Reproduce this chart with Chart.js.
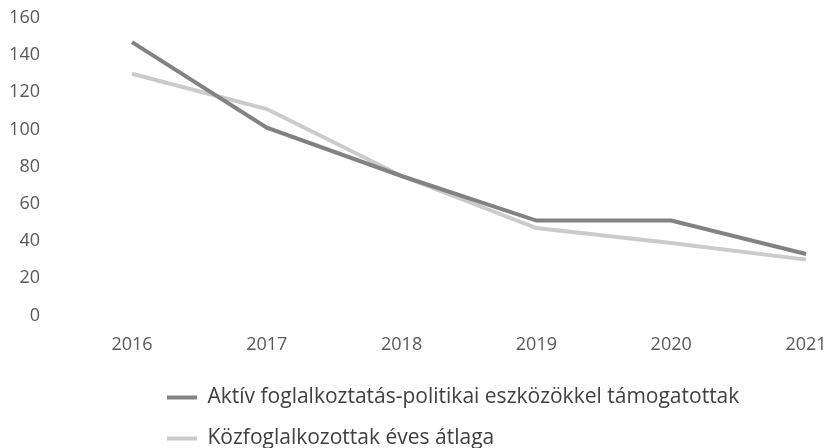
<!DOCTYPE html>
<html>
<head>
<meta charset="utf-8">
<script src="https://cdn.jsdelivr.net/npm/chart.js@4/dist/chart.umd.min.js"></script>
<style>
  html, body { margin: 0; padding: 0; background: #fff; }
  #wrap { width: 831px; height: 448px; }
</style>
</head>
<body>
<div id="wrap"><canvas id="chart"></canvas></div>
<script>
// adatok az ábráról leolvasva
var years = ["2016", "2017", "2018", "2019", "2020", "2021"];
var aktivTamogatott = [147, 101, 75, 51, 51, 33];
var kozfoglalkoztatott = [130, 111, 75, 47, 39, 30];
var seriesNames = [
    "Aktív foglalkoztatás-politikai eszközökkel támogatottak",
    "Közfoglalkozottak éves átlaga"
];

// a jelmagyarázat balra tolva, mint az eredetin
var legendShift = {
    id: "legendShift",
    afterLayout: function(chart) {
        if (chart.legend) {
            chart.legend.left = 147;
        }
    }
};

var ctx = document.getElementById("chart");

new Chart(ctx, {
    type: "line",
    data: {
        labels: years,
        datasets: [{
            label: seriesNames[0],
            data: aktivTamogatott,
            borderColor: "#828282",
            backgroundColor: "#828282",
            borderWidth: 4,
            pointRadius: 0,
            tension: 0
        }, {
            label: seriesNames[1],
            data: kozfoglalkoztatott,
            borderColor: "#cbcbcb",
            backgroundColor: "#cbcbcb",
            borderWidth: 4,
            pointRadius: 0,
            tension: 0
        }]
    },
    plugins: [legendShift],
    options: {
        responsive: true,
        maintainAspectRatio: false,
        animation: false,
        layout: {
            padding: { top: 18, right: 25, left: 0, bottom: -11 }
        },
        plugins: {
            tooltip: { enabled: false },
            legend: {
                position: "bottom",
                align: "start",
                labels: {
                    usePointStyle: true,
                    pointStyle: "line",
                    pointStyleWidth: 30,
                    padding: 20,
                    color: "#404040",
                    font: { family: "Open Sans", size: 21 }
                }
            }
        },
        scales: {
            x: {
                grid: { display: false, drawTicks: false },
                border: { display: false },
                ticks: {
                    padding: 19,
                    color: "#595959",
                    font: { family: "Open Sans", size: 18 }
                },
                afterFit: function(scale) {
                    scale.height -= 8;
                    scale.paddingLeft = 0;
                    scale.paddingRight = 20;
                }
            },
            y: {
                min: 0,
                max: 160,
                grid: { display: false, drawTicks: false },
                border: { display: false },
                ticks: {
                    stepSize: 20,
                    padding: 92,
                    color: "#595959",
                    font: { family: "Open Sans", size: 18 }
                },
                afterFit: function(scale) {
                    scale.width = 132;
                    // a nagy padding ne tolja le a rajzterületet
                    scale.paddingTop = 11;
                    scale.paddingBottom = 11;
                }
            }
        }
    }
});
</script>
</body>
</html>
